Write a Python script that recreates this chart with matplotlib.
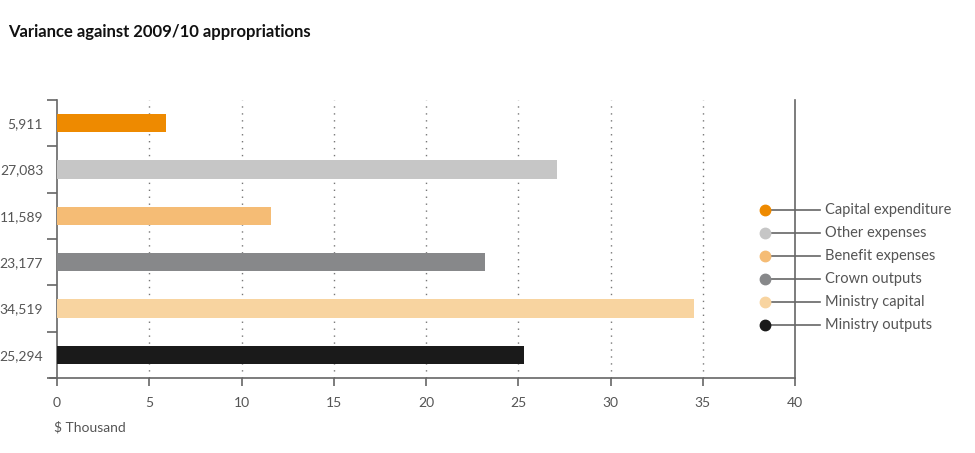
import matplotlib
matplotlib.use("Agg")
import matplotlib.pyplot as plt
import numpy as np

plt.rcParams['font.family'] = ['Lato', 'DejaVu Sans']

categories = ["Capital expenditure", "Other expenses", "Benefit expenses",
              "Crown outputs", "Ministry capital", "Ministry outputs"]
values = [5911, 27083, 11589, 23177, 34519, 25294]
colors = ["#EE8A00", "#C6C6C6", "#F5BC75", "#87888A", "#F8D4A0", "#1A1A1A"]
xticks = [0, 5, 10, 15, 20, 25, 30, 35, 40]

grey = "#555555"
axcol = "#666666"

fig = plt.figure(figsize=(9.75, 4.53), dpi=100)
ax = fig.add_axes([57/975, 1-378/453, 738/975, 278/453])

pos = np.arange(len(categories)) + 0.5
ax.barh(pos, [v/1000 for v in values], height=0.4, color=colors, zorder=3)

ax.set_xlim(0, 40)
ax.set_ylim(len(categories), 0)
ax.set_xticks(xticks)
ax.set_xticklabels([str(t) for t in xticks], color=grey, fontsize=10)
ax.tick_params(axis='x', length=6, width=1.2, color=axcol, pad=8)

ax.set_yticks(pos)
ax.set_yticklabels([f"{v:,}" for v in values], color=grey, fontsize=10)
ax.tick_params(axis='y', which='major', length=0, pad=10)
ax.set_yticks(np.arange(len(categories) + 1), minor=True)
ax.tick_params(axis='y', which='minor', length=7, width=1.2, color=axcol)

for t in xticks[1:-1]:
    ax.axvline(t, color="#777777", linestyle=(0, (1, 4)), linewidth=1, zorder=1)

ax.spines['top'].set_visible(False)
for s in ['left', 'bottom', 'right']:
    ax.spines[s].set_color(axcol)
    ax.spines[s].set_linewidth(1.2)
ax.spines['bottom'].set_bounds(-0.4, 40)

# legend drawn as markers on lines crossing the right axis
for i, (c, col) in enumerate(zip(categories, colors)):
    y = 0.604 - i * 0.0827
    ax.plot([0.959, 1.034], [y, y], color=axcol, linewidth=1.2,
            transform=ax.transAxes, clip_on=False, zorder=4)
    ax.plot([0.959], [y], marker='o', markersize=7.5, color=col,
            transform=ax.transAxes, clip_on=False, zorder=5)
    ax.text(1.041, y, c, transform=ax.transAxes, va='center', ha='left',
            color=grey, fontsize=10.5)

fig.text(8/975, 1-32/453, "Variance against 2009/10 appropriations",
         fontsize=12, fontweight='bold', color="#111111", va='center')
fig.text(54/975, 1-427/453, "$ Thousand", fontsize=10, color=grey, va='center')

fig.savefig("out.png", dpi=100)
